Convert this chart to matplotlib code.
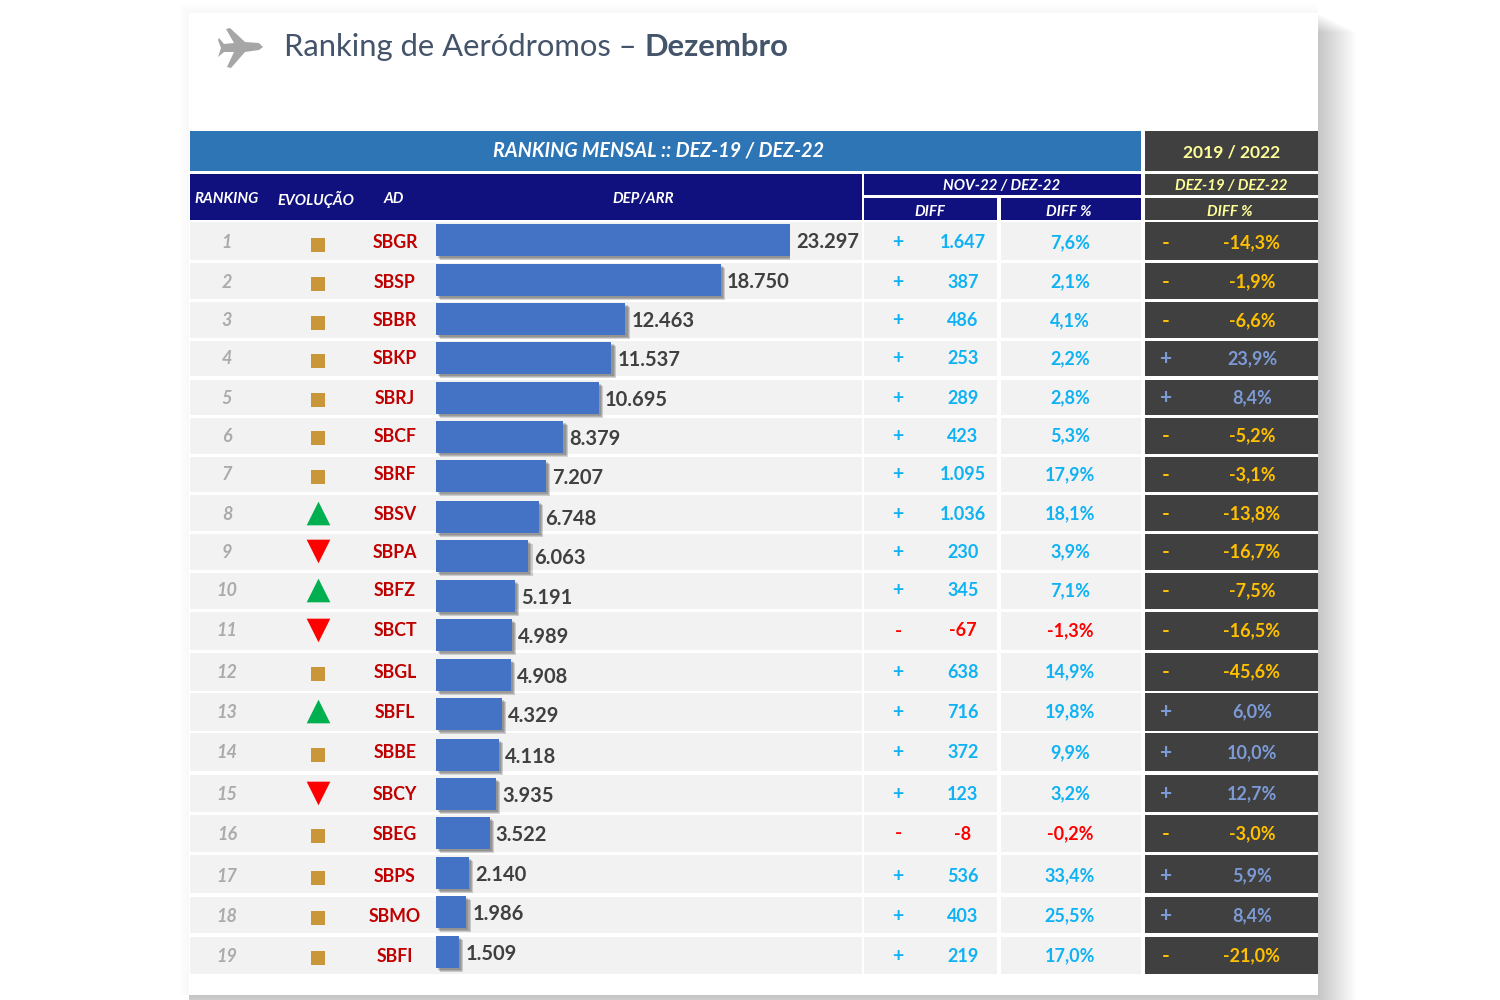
import matplotlib
matplotlib.use("Agg")
import matplotlib.pyplot as plt
import matplotlib.patheffects as pe
from matplotlib.patches import Polygon, Rectangle

plt.rcParams["font.family"] = ["Lato", "DejaVu Sans"]

# -- Data ---------------------------------------------------------------------
RANKS = list(range(1, 20))
EVOLUTION = ["=", "=", "=", "=", "=", "=", "=", "up", "down", "up",
             "down", "=", "up", "=", "down", "=", "=", "=", "="]
AIRPORTS = ["SBGR", "SBSP", "SBBR", "SBKP", "SBRJ", "SBCF", "SBRF", "SBSV", "SBPA", "SBFZ",
            "SBCT", "SBGL", "SBFL", "SBBE", "SBCY", "SBEG", "SBPS", "SBMO", "SBFI"]
MOVEMENTS = [23297, 18750, 12463, 11537, 10695, 8379, 7207, 6748, 6063, 5191,
             4989, 4908, 4329, 4118, 3935, 3522, 2140, 1986, 1509]
DIFF = [1647, 387, 486, 253, 289, 423, 1095, 1036, 230, 345,
        -67, 638, 716, 372, 123, -8, 536, 403, 219]
DIFF_PCT = [7.6, 2.1, 4.1, 2.2, 2.8, 5.3, 17.9, 18.1, 3.9, 7.1,
            -1.3, 14.9, 19.8, 9.9, 3.2, -0.2, 33.4, 25.5, 17.0]
DIFF_PCT_2019 = [-14.3, -1.9, -6.6, 23.9, 8.4, -5.2, -3.1, -13.8, -16.7, -7.5,
                 -16.5, -45.6, 6.0, 10.0, 12.7, -3.0, 5.9, 8.4, -21.0]

# -- Layout in image pixels ---------------------------------------------------
ROW_TOPS = [222, 263, 302, 341, 380, 418, 457, 495, 534, 573, 612, 653, 693, 733, 775, 815, 855, 897, 937]
ROW_BOTTOMS = [260, 299, 338, 376, 415, 454, 492, 531, 570, 609, 650, 691, 731, 771, 812, 852, 893, 933, 974]
TEXT_Y = [243, 282, 321, 359, 398, 436, 475, 514, 552, 591, 631, 672, 712, 753, 794, 834, 876, 916, 956]
BAR_Y = [240, 280, 319, 358, 398, 437, 476, 517, 556, 596, 635, 675, 714, 755, 794, 833, 873, 912, 952]

NAVY = "#10107F"
BLUE = "#2E75B6"
DARK = "#404040"
PALE = "#FFFF99"
BAND = "#F2F2F2"
CYAN = "#0FB2F2"
RED = "#FF0000"
AD_RED = "#C00000"
AMBER = "#FFC000"
STEEL = "#7C9BD6"
GOLD = "#C9973A"
GREEN = "#00B050"


def fmt_int(v):
    return f"{abs(v):,}".replace(",", ".")


def fmt_pct(v):
    return f"{v:.1f}%".replace(".", ",")


fig = plt.figure(figsize=(15, 10), dpi=100, facecolor="white")
ax = fig.add_axes([0, 0, 1, 1])
ax.set_xlim(0, 1500)
ax.set_ylim(1000, 0)
ax.axis("off")


def box(x0, y0, x1, y1, color, **kw):
    ax.add_patch(Rectangle((x0, y0), x1 - x0, y1 - y0, facecolor=color, edgecolor="none", **kw))


def label(x, y, s, **kw):
    kw.setdefault("ha", "center")
    kw.setdefault("va", "center")
    ax.text(x, y, s, **kw)


# card shadow, stacked translucent layers so it fades outwards
for g in range(2, 40, 2):
    box(189, 13 + g * 0.5, 1318 + g, 995 + g, "black", alpha=0.012, zorder=1)
# very faint glow on the top and left edges
for g in (3, 6, 9):
    box(189 - g, 13 - g, 1318, 995, "black", alpha=0.006, zorder=1)
box(189, 13, 1318, 995, "white", zorder=2)

# plane icon
plane = Polygon([(263, 47), (259, 43), (245, 42), (230, 28), (226, 29), (234, 43), (224, 44), (219, 38),
                 (218, 40), (221, 48), (218, 57), (224, 52), (234, 52), (227, 67), (231, 68), (245, 52), (259, 50)],
                closed=True, facecolor="#A6A6A6", edgecolor="none", zorder=3)
ax.add_patch(plane)

# title
title = ax.text(284, 47, "Ranking de Aeródromos – ", fontsize=22.3, color="#44546A", va="center", zorder=3)
fig.canvas.draw()
end = title.get_window_extent().x1
ax.text(end, 47, "Dezembro", fontsize=22.3, color="#44546A", fontweight="bold", va="center", zorder=3)

# header blocks
box(190, 131, 1141, 171, BLUE, zorder=3)
box(1145, 131, 1318, 171, DARK, zorder=3)
box(190, 174, 862, 220, NAVY, zorder=3)
box(864, 174, 1141, 195, NAVY, zorder=3)
box(864, 198, 997, 220, NAVY, zorder=3)
box(1001, 198, 1141, 220, NAVY, zorder=3)
box(1145, 174, 1318, 195, DARK, zorder=3)
box(1145, 198, 1318, 220, DARK, zorder=3)

head = dict(style="italic", fontweight="bold", zorder=5)
label(659, 151, "RANKING MENSAL :: DEZ-19 / DEZ-22", color="white", fontsize=14.2, **head)
label(1232, 152, "2019 / 2022", color=PALE, fontsize=12.6, fontweight="bold", zorder=5)
label(227, 199, "RANKING", color="white", fontsize=10.8, **head)
label(316, 199, "EVOLUÇÃO", color="white", fontsize=10.8, **head)
label(394, 199, "AD", color="white", fontsize=10.8, **head)
label(643, 199, "DEP/ARR", color="white", fontsize=10.8, **head)
label(1002, 186, "NOV-22 / DEZ-22", color="white", fontsize=10.8, **head)
label(930, 212, "DIFF", color="white", fontsize=10.8, **head)
label(1069, 212, "DIFF %", color="white", fontsize=10.8, **head)
label(1231, 186, "DEZ-19 / DEZ-22", color=PALE, fontsize=10.8, **head)
label(1230, 212, "DIFF %", color=PALE, fontsize=10.8, **head)

# table rows
for i, rank in enumerate(RANKS):
    top, bottom, y = ROW_TOPS[i], ROW_BOTTOMS[i], TEXT_Y[i]
    box(190, top, 862, bottom, BAND, zorder=3)
    box(864, top, 997, bottom, BAND, zorder=3)
    box(1001, top, 1141, bottom, BAND, zorder=3)
    box(1145, top, 1318, bottom, DARK, zorder=3)

    label(227, y, str(rank), color="#ABABAB", fontsize=13, style="italic", fontweight="bold", zorder=5)
    label(395, y, AIRPORTS[i], color=AD_RED, fontsize=12.8, fontweight="bold", zorder=5)

    evo = EVOLUTION[i]
    if evo == "=":
        ax.scatter(318, y + 2, marker="s", s=105, color=GOLD, linewidths=0, zorder=5)
    elif evo == "up":
        ax.scatter(318, y - 1, marker="^", s=290, color=GREEN, linewidths=0, zorder=5)
    else:
        ax.scatter(318, y - 1, marker="v", s=290, color=RED, linewidths=0, zorder=5)

    col = CYAN if DIFF[i] >= 0 else RED
    label(898, y, "+" if DIFF[i] >= 0 else "-", color=col, fontsize=14, fontweight="bold", zorder=5)
    diff_text = fmt_int(DIFF[i]) if DIFF[i] >= 0 else "-" + fmt_int(DIFF[i])
    label(963, y, diff_text, color=col, fontsize=13, fontweight="bold", zorder=5)
    label(1070, y, fmt_pct(DIFF_PCT[i]), color=col, fontsize=13, fontweight="bold", zorder=5)

    col = STEEL if DIFF_PCT_2019[i] >= 0 else AMBER
    label(1166, y, "+" if DIFF_PCT_2019[i] >= 0 else "-", color=col, fontsize=15, fontweight="bold", zorder=5)
    label(1252, y, fmt_pct(DIFF_PCT_2019[i]), color=col, fontsize=13, fontweight="bold", zorder=5)

# bars live in their own axes, same vertical pixel scale as the table
ax_bar = fig.add_axes([436 / 1500, 0, 354 / 1500, 1])
ax_bar.set_xlim(0, max(MOVEMENTS))
ax_bar.set_ylim(1000, 0)
ax_bar.axis("off")
bars = ax_bar.barh(BAR_Y, MOVEMENTS, height=32, color="#4472C4", linewidth=0)
soft = [pe.SimplePatchShadow(offset=(k, -k), shadow_rgbFace="#404040", alpha=0.22) for k in (3.2, 2.4, 1.6)]
for b in bars:
    b.set_path_effects(soft + [pe.Normal()])
texts = ax_bar.bar_label(bars, labels=[fmt_int(v) for v in MOVEMENTS], padding=4.5,
                         fontsize=14.5, fontweight="bold", color="#404040")
for t in texts:
    t.xyann = (t.xyann[0], t.xyann[1] - 1.5)

fig.savefig("out.png", dpi=100)
